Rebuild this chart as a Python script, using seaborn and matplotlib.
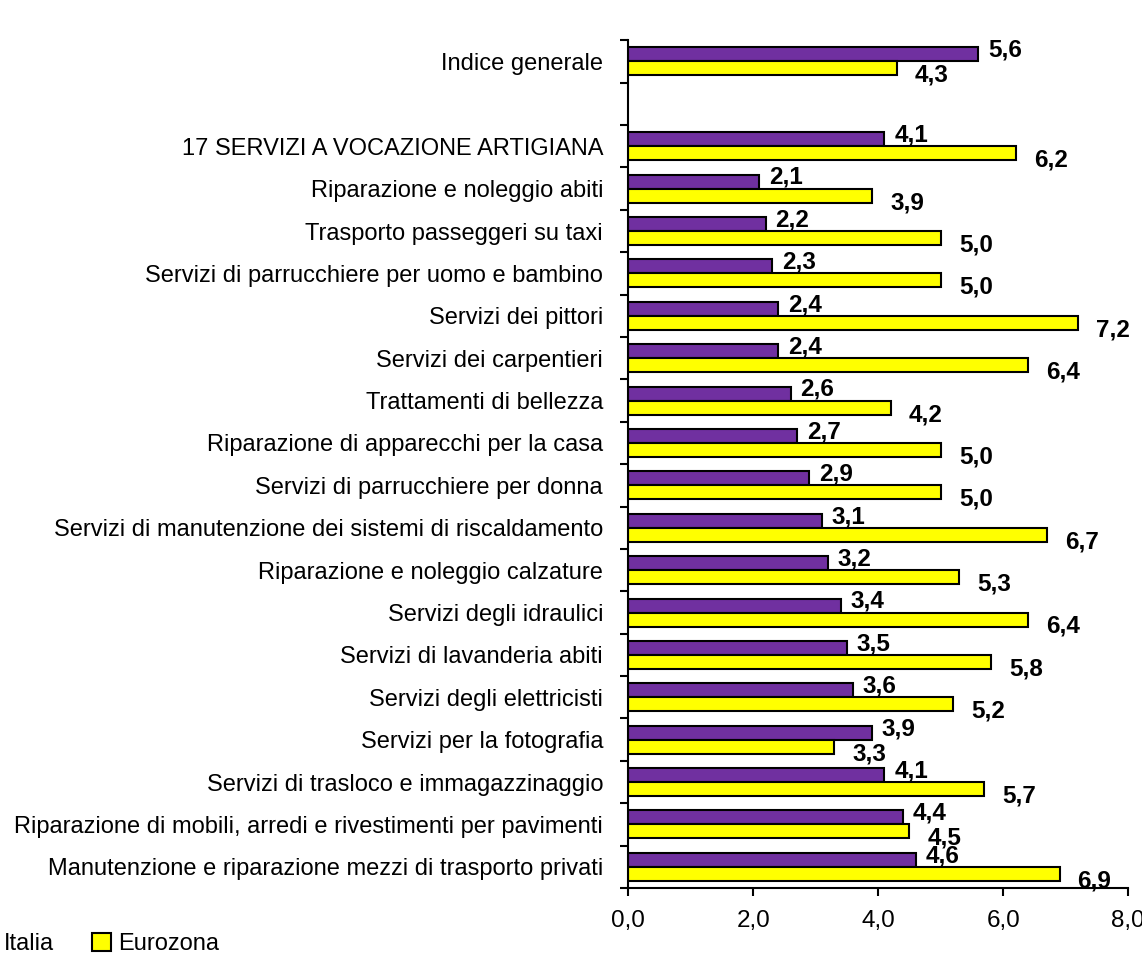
import pandas as pd
import seaborn as sns
import matplotlib.pyplot as plt
from matplotlib.patches import Patch

sns.set_theme(style='white')
plt.rcParams['font.family'] = ['Liberation Sans', 'DejaVu Sans']
plt.rcParams['text.color'] = 'black'
plt.rcParams['xtick.labelcolor'] = 'black'
plt.rcParams['ytick.labelcolor'] = 'black'

categories = [
    'Indice generale',
    ' ',
    '17 SERVIZI A VOCAZIONE ARTIGIANA',
    'Riparazione e noleggio abiti',
    'Trasporto passeggeri su taxi',
    'Servizi di parrucchiere per uomo e bambino',
    'Servizi dei pittori',
    'Servizi dei carpentieri',
    'Trattamenti di bellezza',
    'Riparazione di apparecchi per la casa',
    'Servizi di parrucchiere per donna',
    'Servizi di manutenzione dei sistemi di riscaldamento',
    'Riparazione e noleggio calzature',
    'Servizi degli idraulici',
    'Servizi di lavanderia abiti',
    'Servizi degli elettricisti',
    'Servizi per la fotografia',
    'Servizi di trasloco e immagazzinaggio',
    'Riparazione di mobili, arredi e rivestimenti per pavimenti',
    'Manutenzione e riparazione mezzi di trasporto privati',
]
italia = [5.6, None, 4.1, 2.1, 2.2, 2.3, 2.4, 2.4, 2.6, 2.7, 2.9, 3.1, 3.2, 3.4, 3.5, 3.6, 3.9, 4.1, 4.4, 4.6]
eurozona = [4.3, None, 6.2, 3.9, 5.0, 5.0, 7.2, 6.4, 4.2, 5.0, 5.0, 6.7, 5.3, 6.4, 5.8, 5.2, 3.3, 5.7, 4.5, 6.9]
series = ['Italia', 'Eurozona']
colors = ['#7030A0', '#FFFF00']

rows = []
for cat, it, eu in zip(categories, italia, eurozona):
    if it is None:
        continue
    rows.append({'voce': cat, 'serie': 'Italia', 'valore': it})
    rows.append({'voce': cat, 'serie': 'Eurozona', 'valore': eu})
df = pd.DataFrame(rows)

fig = plt.figure(figsize=(11.42, 9.59), dpi=100)
ax = fig.add_axes([0.55, 0.074, 0.438, 0.884])

sns.barplot(data=df, y='voce', x='valore', hue='serie', order=categories,
            hue_order=series, palette=colors, orient='h', width=0.66,
            edgecolor='black', linewidth=1.5, saturation=1, ax=ax, legend=False)

ax.set_xlim(0, 8)
ax.set_ylim(len(categories) - 0.5, -0.5)
ax.set_xticks([0, 2, 4, 6, 8])
ax.set_xticklabels(['0,0', '2,0', '4,0', '6,0', '8,0'], fontsize=17.5)
ax.set_yticks([i - 0.5 for i in range(len(categories) + 1)])
ax.set_yticklabels([])
ax.set_yticks(range(len(categories)), minor=True)
ax.set_yticklabels(categories, minor=True, fontsize=17)
ax.tick_params(axis='y', which='major', length=6, width=1.5, direction='out', left=True, color='black')
ax.tick_params(axis='y', which='minor', length=0, pad=18)
ax.tick_params(axis='x', length=6, width=1.5, direction='out', bottom=True, color='black', pad=10)
ax.set_xlabel('')
ax.set_ylabel('')
for side in ['top', 'right']:
    ax.spines[side].set_visible(False)
for side in ['left', 'bottom']:
    ax.spines[side].set_color('black')
    ax.spines[side].set_linewidth(1.5)

# etichette dei valori
for k, cont in enumerate(ax.containers):
    for bar in cont:
        w = bar.get_width()
        if not w == w or w == 0:
            continue
        yc = bar.get_y() + bar.get_height() / 2
        off = (7, 3) if k == 0 else (13, -5)
        ax.annotate(f'{w:.1f}'.replace('.', ','), (w, yc), xytext=off,
                    textcoords='offset points', ha='left', va='center',
                    fontsize=17.5, fontweight='bold', color='black')

handles = [Patch(facecolor=c, edgecolor='black', linewidth=1.5) for c in colors]
fig.legend(handles, series, loc='lower left', bbox_to_anchor=(-0.038, -0.018),
           ncol=2, frameon=False, fontsize=17, handlelength=0.8, handleheight=0.8,
           handletextpad=0.3, columnspacing=1.6)

fig.savefig('out.png', dpi=100)
